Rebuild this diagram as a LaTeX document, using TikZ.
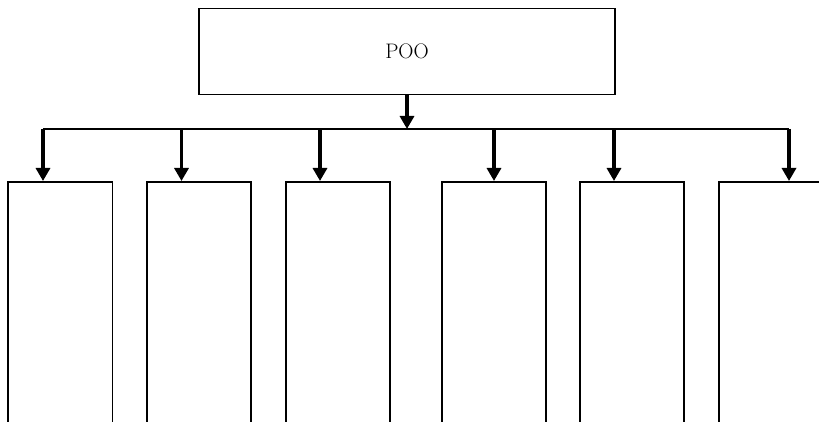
\documentclass[tikz,border=0pt]{standalone}
\usetikzlibrary{arrows.meta}
\tikzset{
  topbox/.style={draw,line width=1.9pt,minimum width=416pt,minimum height=86pt,font=\fontsize{21}{25}\selectfont},
  leafbox/.style={draw,line width=1.9pt,minimum width=104.5pt,minimum height=260pt,anchor=north},
  down/.style={line width=3.2pt,-{Triangle[length=13pt,width=14pt]}}
}
\begin{document}
\begin{tikzpicture}[x=1pt,y=1pt]
      \clip (0,0) rectangle (819,422);
      \node[topbox] (poo) at (407,370.5) {POO};
      \draw
        (60.25,241) node[leafbox] (c1){}
        (199,241) node[leafbox] (c2){}
        (338,241) node[leafbox] (c3){}
        (494,241) node[leafbox] (c4){}
        (632,241) node[leafbox] (c5){}
        (771,241) node[leafbox] (c6){};
      \coordinate (bus) at (407,293);
      \coordinate (b1) at (43,293);
      \coordinate (b2) at (181.5,293);
      \coordinate (b3) at (320,293);
      \coordinate (b4) at (494,293);
      \coordinate (b5) at (614,293);
      \coordinate (b6) at (789,293);
      \draw[line width=2pt] (b1) -- (b6);
      \begin{scope}[down]
        \draw (poo.south) to (bus);
        \draw (b1) to (b1 |- c1.north);
        \draw (b2) to (b2 |- c2.north);
        \draw (b3) to (b3 |- c3.north);
        \draw (b4) to (b4 |- c4.north);
        \draw (b5) to (b5 |- c5.north);
        \draw (b6) to (b6 |- c6.north);
      \end{scope}
    \end{tikzpicture}
\end{document}
